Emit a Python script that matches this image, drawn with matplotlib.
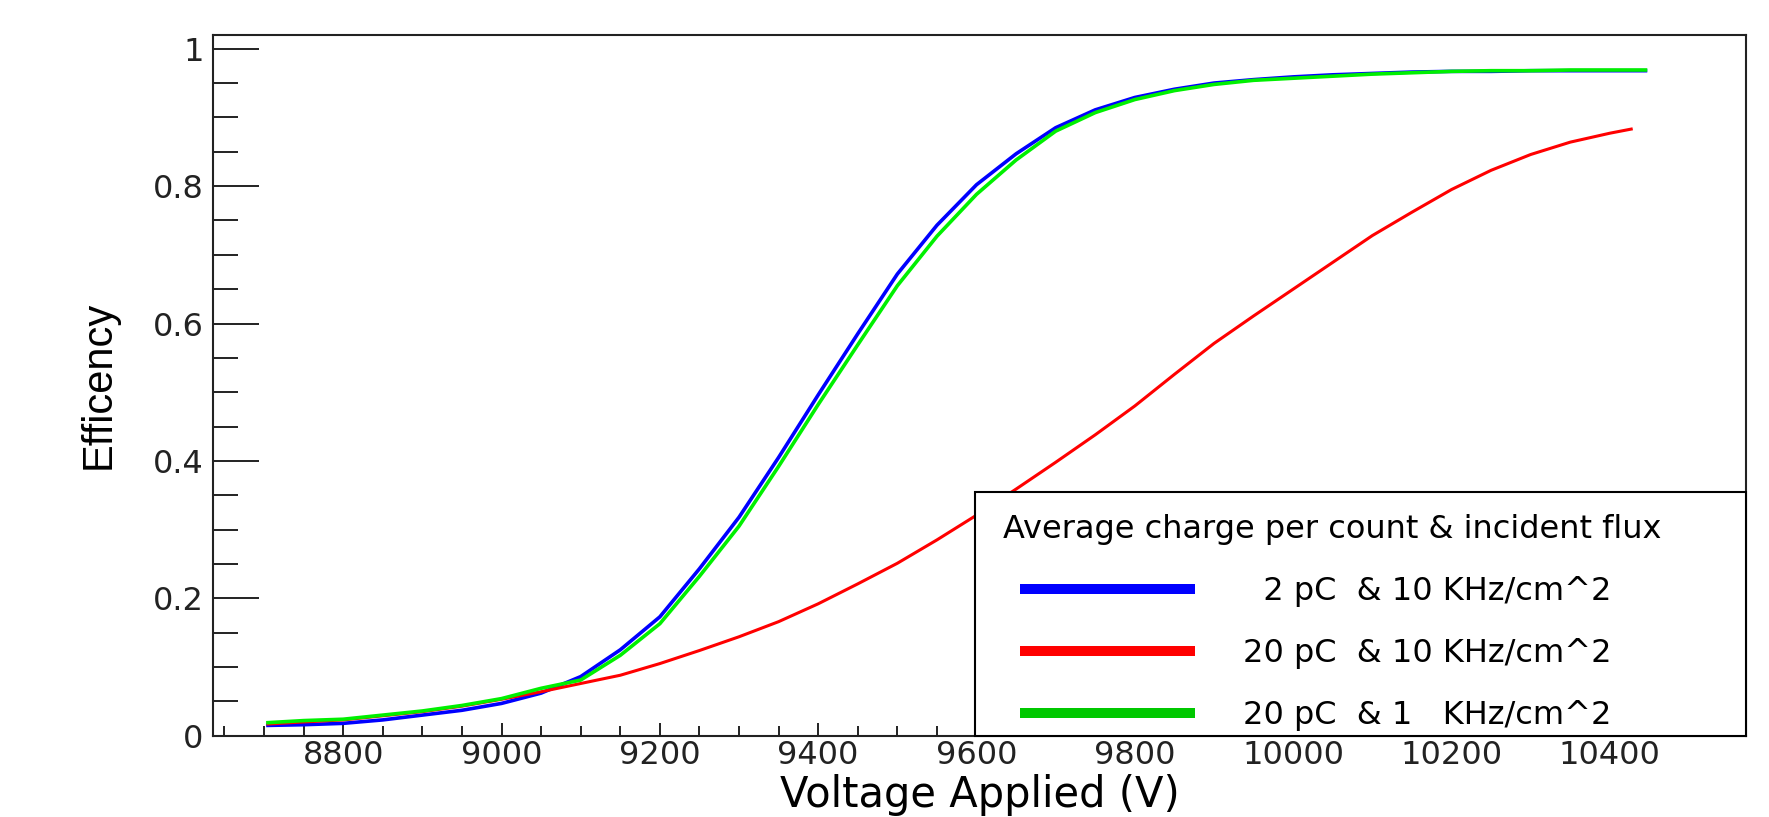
"""
Efficiency vs applied voltage for three charge / flux settings
"""

import matplotlib
matplotlib.use("Agg")
import matplotlib.pyplot as plt
from matplotlib.lines import Line2D
from matplotlib.patches import Rectangle
from matplotlib.legend_handler import HandlerLine2D
from matplotlib.ticker import MultipleLocator, FuncFormatter

# Voltage grid (V)
voltage = [8705, 8750, 8800, 8850, 8900, 8950, 9000, 9050, 9100, 9150,
           9200, 9250, 9300, 9350, 9400, 9450, 9500, 9550, 9600, 9650,
           9700, 9750, 9800, 9850, 9900, 9950, 10000, 10050, 10100, 10150,
           10200, 10250, 10300, 10350, 10400, 10445]

# 2 pC & 10 KHz/cm^2
eff_2pc_10khz = [0.015, 0.016, 0.018, 0.023, 0.030, 0.037, 0.047, 0.062, 0.086, 0.125,
                 0.173, 0.243, 0.318, 0.405, 0.496, 0.585, 0.672, 0.743, 0.802, 0.847,
                 0.885, 0.911, 0.929, 0.941, 0.950, 0.955, 0.959, 0.962, 0.964, 0.966,
                 0.967, 0.967, 0.968, 0.968, 0.968, 0.968]

# 20 pC & 1 KHz/cm^2
eff_20pc_1khz = [0.019, 0.022, 0.024, 0.030, 0.036, 0.044, 0.054, 0.069, 0.081, 0.117,
                 0.163, 0.232, 0.305, 0.392, 0.482, 0.569, 0.655, 0.727, 0.788, 0.838,
                 0.880, 0.907, 0.926, 0.939, 0.948, 0.954, 0.957, 0.960, 0.963, 0.965,
                 0.967, 0.968, 0.968, 0.969, 0.969, 0.969]

# 20 pC & 10 KHz/cm^2 (stops a little earlier)
voltage_red = [8705, 8750, 8800, 8850, 8900, 8950, 9000, 9050, 9100, 9150,
               9200, 9250, 9300, 9350, 9400, 9450, 9500, 9550, 9600, 9650,
               9700, 9750, 9800, 9850, 9900, 9950, 10000, 10050, 10100, 10150,
               10200, 10250, 10300, 10350, 10400, 10427]
eff_20pc_10khz = [0.017, 0.020, 0.023, 0.029, 0.035, 0.043, 0.053, 0.064, 0.076, 0.088,
                  0.105, 0.124, 0.144, 0.166, 0.192, 0.221, 0.251, 0.285, 0.321, 0.359,
                  0.398, 0.438, 0.480, 0.526, 0.571, 0.611, 0.650, 0.689, 0.728, 0.762,
                  0.795, 0.823, 0.846, 0.864, 0.877, 0.883]

legend_title = "Average charge per count & incident flux"
legend_labels = ["  2 pC  & 10 KHz/cm^2",
                 "20 pC  & 10 KHz/cm^2",
                 "20 pC  & 1   KHz/cm^2"]


def main():
    plt.rcParams["font.family"] = ["DejaVu Sans"]

    fig = plt.figure(figsize=(17.69, 8.17), dpi=100)
    ax = fig.add_axes([0.1206, 0.0995, 0.8664, 0.8577])

    ax.plot(voltage, eff_2pc_10khz, color="#0000ff", lw=2.6, zorder=2)
    ax.plot(voltage_red, eff_20pc_10khz, color="#ff0000", lw=2.2, zorder=2)
    ax.plot(voltage, eff_20pc_1khz, color="#00f000", lw=2.6, zorder=2)

    ax.set_xlim(8636, 10572)
    ax.set_ylim(0, 1.02)

    # axis ticks, ROOT-like (inward, no ticks on top/right)
    ax.xaxis.set_major_locator(MultipleLocator(200))
    ax.xaxis.set_minor_locator(MultipleLocator(50))
    ax.yaxis.set_major_locator(MultipleLocator(0.2))
    ax.yaxis.set_minor_locator(MultipleLocator(0.05))
    ax.yaxis.set_major_formatter(FuncFormatter(lambda v, p: f"{v:g}"))

    ax.tick_params(axis="both", which="both", direction="in",
                   top=False, right=False, width=1.4, colors="#222222")
    ax.tick_params(axis="y", which="major", length=33, pad=7, labelsize=23)
    ax.tick_params(axis="y", which="minor", length=18)
    ax.tick_params(axis="x", which="major", length=9.5, pad=3, labelsize=23)
    ax.tick_params(axis="x", which="minor", length=7)
    for spine in ax.spines.values():
        spine.set_linewidth(1.5)
        spine.set_color("#222222")

    ax.set_xlabel("Voltage Applied (V)", fontsize=30)
    ax.xaxis.set_label_coords(0.5, -0.055)
    ax.set_ylabel("Efficency", fontsize=30,
                  family=["Liberation Sans Narrow", "Liberation Sans"])
    ax.yaxis.set_label_coords(-0.062, 0.5)

    # opaque legend box sitting on the bottom-right corner of the frame
    box = Rectangle((0.4967, 0.0), 0.5033, 0.3482, transform=ax.transAxes,
                    facecolor="white", edgecolor="black", lw=1.5, zorder=4,
                    clip_on=False)
    ax.add_patch(box)

    handles = [Line2D([], [], color="#0000ff", lw=7.2),
               Line2D([], [], color="#ff0000", lw=7.2),
               Line2D([], [], color="#00c800", lw=7.2)]
    leg = ax.legend(handles, legend_labels, title=legend_title,
                    loc="upper left", bbox_to_anchor=(0.5152, 0.3165),
                    frameon=False, borderpad=0, borderaxespad=0,
                    fontsize=23, title_fontsize=23, alignment="left",
                    handlelength=5.85, handletextpad=1.65, labelspacing=0.97,
                    handler_map={Line2D: HandlerLine2D(xpad=0.69)})
    leg.set_zorder(5)

    fig.savefig("out.png", dpi=100)


if __name__ == "__main__":
    main()
